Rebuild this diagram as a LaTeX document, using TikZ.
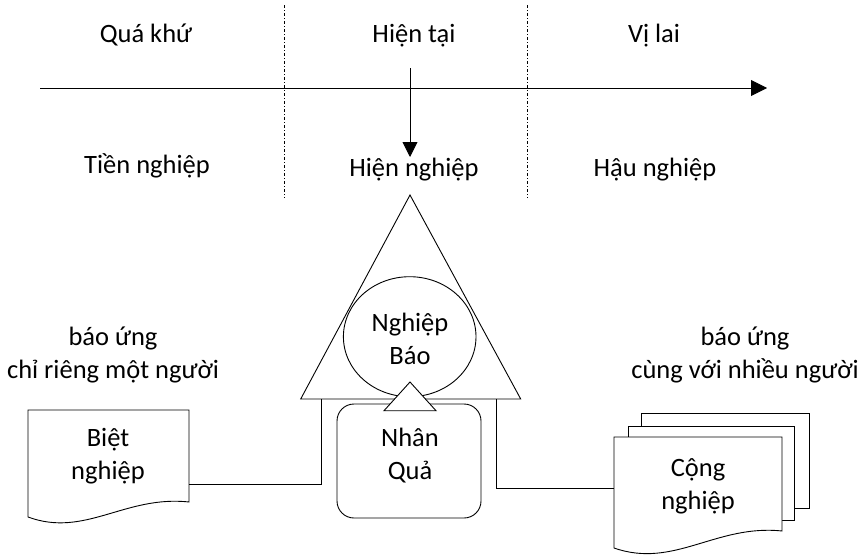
\documentclass[tikz,border=0pt]{standalone}
\usepackage{fontspec}
\setmainfont{Carlito}
\usetikzlibrary{arrows.meta}
\tikzset{
  lbl/.style={inner sep=0pt, font=\fontsize{26.5}{33}\selectfont, align=center},
  shp/.style={draw=black, line width=0.9pt},
  sep/.style={draw=black, line width=0.6pt, dash pattern=on 3pt off 2pt on 1pt off 2pt},
  conn/.style={draw=black, line width=0.9pt},
}
\begin{document}
\begin{tikzpicture}[x=1pt,y=-1pt]
\useasboundingbox (0,0) rectangle (867,557);
% separators
\draw[sep] (284,5) -- (284,198);
\draw[sep] (527,5) -- (527,198);
% time axis
\coordinate (axS) at (40,88);
\coordinate (axE) at (767,88);
\draw[conn, -{Triangle[length=16pt,width=16pt]}] (axS) -- (axE);
% header labels
\node[lbl, anchor=base] (qk) at (146,42) {Quá khứ};
\node[lbl, anchor=base] (ht) at (414,42) {Hiện tại};
\node[lbl, anchor=base] (vl) at (654,42) {Vị lai};
\node[lbl, anchor=base] (tn) at (147,173) {Tiền nghiệp};
\node[lbl, anchor=base] (hn) at (414,176) {Hiện nghiệp};
\node[lbl, anchor=base] (hau) at (655,176) {Hậu nghiệp};
% down arrow
\coordinate (dS) at (410,68);
\coordinate (dE) at (410,157);
\draw[conn, -{Triangle[length=15pt,width=15pt]}] (dS) -- (dE);
% Nhân Quả rounded box
\draw[shp, rounded corners=17pt] (337,404) rectangle (481,518);
% big triangle
\coordinate (triT) at (410,195);
\coordinate (triL) at (300.7,399);
\coordinate (triR) at (520.7,399);
\draw[shp] (triT) -- (triR) -- (triL) -- cycle;
% circle
\draw[shp] (409.7,336.7) ellipse [x radius=66.3, y radius=60];
% small triangle
\draw[shp, fill=white] (410,382) -- (436,410.7) -- (384,410.7) -- cycle;
\node[lbl] (nb) at (410,339) {Nghiệp\\Báo};
\node[lbl] (nq) at (410,456) {Nhân\\Quả};
% Biệt nghiệp document
\draw[shp, fill=white] (28,410) -- (189,410) -- (189,502) .. controls (125,495) and (85,538) .. (28,517) -- cycle;
\node[lbl] (biet) at (108,456) {Biệt\\nghiệp};
% Cộng nghiệp multi-document
\draw[shp, fill=white] (641,413) rectangle (809,508);
\draw[shp, fill=white] (628,426) rectangle (794,520);
\draw[shp, fill=white] (614,437) -- (782,437) -- (782,531) .. controls (716,524) and (674,569) .. (614,548) -- cycle;
\node[lbl] (cong) at (698,486) {Cộng\\nghiệp};
% side labels
\node[lbl] (lb1) at (113,355) {báo ứng\\chỉ riêng một người};
\node[lbl] (lb2) at (745,355) {báo ứng\\cùng với nhiều người};
% connectors
\coordinate (triBL) at (321.7,399);
\coordinate (bietE) at (189,484);
\coordinate (triBR) at (496.7,399);
\coordinate (congW) at (614,488);
\draw[conn] (triBL) |- (bietE);
\draw[conn] (triBR) |- (congW);
\end{tikzpicture}
\end{document}
